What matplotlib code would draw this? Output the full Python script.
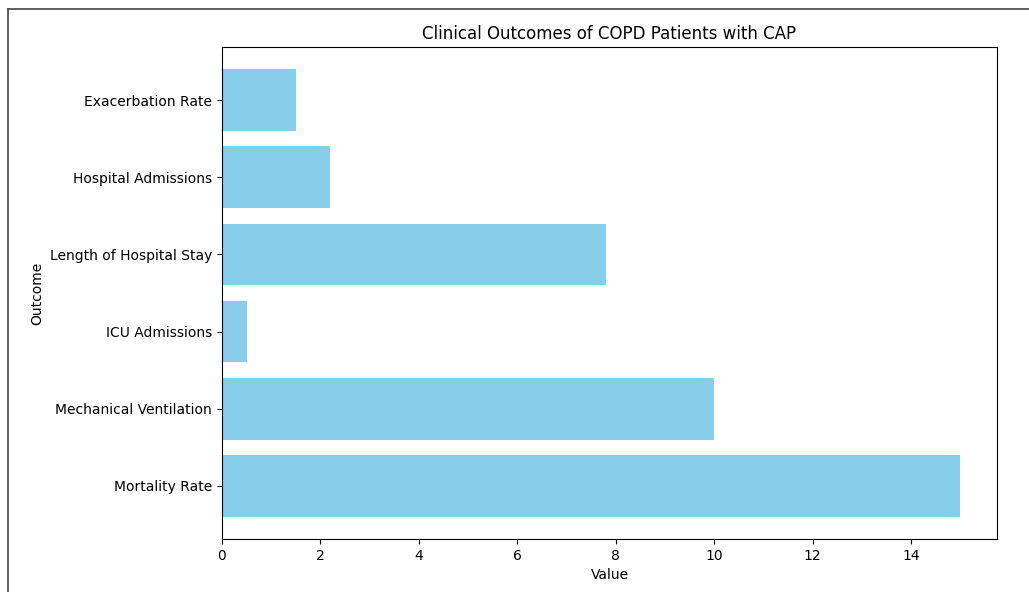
import matplotlib.pyplot as plt
from matplotlib.lines import Line2D

outcomes = ["Mortality Rate", "Mechanical Ventilation", "ICU Admissions",
            "Length of Hospital Stay", "Hospital Admissions", "Exacerbation Rate"]
values = [15, 10, 0.5, 7.8, 2.2, 1.5]

fig = plt.figure(figsize=(10.29, 5.92), dpi=100)
ax = fig.add_axes([0.2157, 0.0895, 0.7533, 0.8311])
ax.barh(outcomes, values, color="skyblue")
ax.set_xlabel("Value")
ax.set_ylabel("Outcome")
ax.set_title("Clinical Outcomes of COPD Patients with CAP")

# screenshot frame around the figure (left and top edges only visible)
fig.add_artist(Line2D([8 / 1029, 8 / 1029], [0, 1 - 9 / 592], transform=fig.transFigure,
                      color="#444444", lw=1.2))
fig.add_artist(Line2D([8 / 1029, 1], [1 - 9 / 592, 1 - 9 / 592], transform=fig.transFigure,
                      color="#444444", lw=1.2))

fig.savefig("out.png", dpi=100)
